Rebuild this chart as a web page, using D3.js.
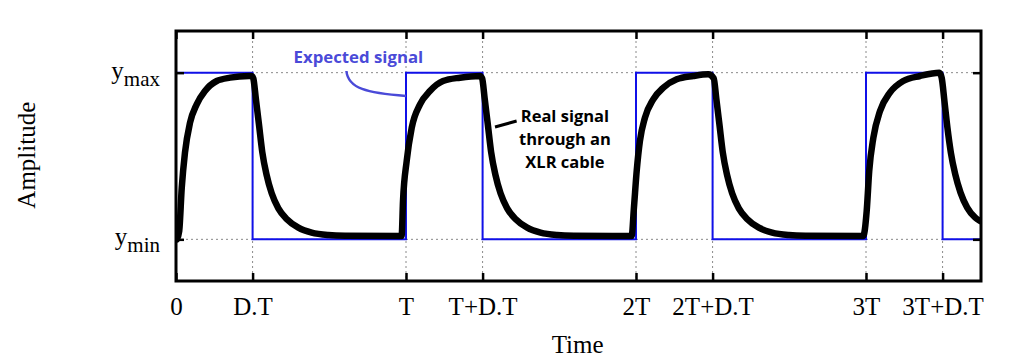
<!DOCTYPE html>
<html>
<head>
<meta charset="utf-8">
<script src="https://cdn.jsdelivr.net/npm/d3@7"></script>
<style>
  html, body { margin: 0; padding: 0; background: #fff; }
  svg { display: block; }
</style>
</head>
<body>
<svg id="chart" width="1024" height="358"></svg>
<script>
// ---------- data (time in units of T, level 0 = ymin, 1 = ymax) ----------
const xTickValues = [0, 0.333, 1, 1.333, 2, 2.333, 3, 3.333];
const xTickLabels = ["0", "D.T", "T", "T+D.T", "2T", "2T+D.T", "3T", "3T+D.T"];
const yTickValues = [0, 1];
const yTickBase = ["y", "y"];
const yTickSub = ["min", "max"];

const expectedTime  = [0, 0.333, 1, 1.333, 2, 2.333, 3, 3.333, 3.5];
const expectedLevel = [1, 0, 1, 0, 1, 0, 1, 0, 0];

const realTime = [
  0.004, 0.014, 0.025, 0.039, 0.061, 0.090, 0.126, 0.177, 0.235, 0.317,
  0.329, 0.336, 0.347, 0.361, 0.375, 0.394, 0.416, 0.445, 0.481, 0.532, 0.590, 0.662, 0.735, 0.974,
  0.981, 0.987, 1.003, 1.025, 1.061, 1.104, 1.161, 1.235, 1.322,
  1.331, 1.342, 1.356, 1.370, 1.389, 1.411, 1.440, 1.476, 1.527, 1.585, 1.657, 1.730, 1.974,
  1.981, 1.991, 2.003, 2.017, 2.039, 2.075, 2.119, 2.177, 2.249, 2.314,
  2.338, 2.349, 2.363, 2.377, 2.396, 2.418, 2.447, 2.483, 2.534, 2.592, 2.664, 2.737, 2.988,
  3.003, 3.014, 3.032, 3.061, 3.104, 3.162, 3.235, 3.319,
  3.329, 3.341, 3.354, 3.369, 3.388, 3.411, 3.440, 3.475, 3.496
];
const realLevel = [
  0.00, 0.05, 0.31, 0.52, 0.70, 0.81, 0.89, 0.95, 0.97, 0.98,
  0.98, 0.966, 0.846, 0.686, 0.525, 0.386, 0.276, 0.186, 0.122, 0.070, 0.040, 0.026, 0.022, 0.02,
  0.02, 0.23, 0.47, 0.67, 0.81, 0.89, 0.95, 0.97, 0.98,
  0.966, 0.846, 0.686, 0.525, 0.386, 0.276, 0.186, 0.122, 0.070, 0.040, 0.026, 0.022, 0.02,
  0.02, 0.19, 0.41, 0.59, 0.73, 0.84, 0.91, 0.96, 0.98, 0.99,
  0.966, 0.846, 0.686, 0.525, 0.386, 0.276, 0.186, 0.122, 0.070, 0.040, 0.026, 0.022, 0.02,
  0.17, 0.41, 0.61, 0.77, 0.88, 0.95, 0.98, 1.00,
  0.97, 0.83, 0.67, 0.52, 0.39, 0.28, 0.19, 0.13, 0.11
];

const expectedLabel = "Expected signal";
const realLabelLines = ["Real signal", "through an", "XLR cable"];
const xTitle = "Time";
const yTitle = "Amplitude";

// ---------- layout ----------
const svg = d3.select("#chart");
const pLeft = 176, pRight = 981, pTop = 31, pBottom = 281;
const x = d3.scaleLinear().domain([0, 3.5]).range([pLeft, pRight]);
const y = d3.scaleLinear().domain([-0.25, 1.25]).range([pBottom, pTop]);

const serif = "'Liberation Serif', 'Times New Roman', serif";
const sans = "'Open Sans', 'Noto Sans', sans-serif";
const annotBlue = "#4a4ad8";

svg.append("defs").append("clipPath").attr("id", "plotclip")
  .append("rect").attr("x", pLeft).attr("y", pTop)
  .attr("width", pRight - pLeft).attr("height", pBottom - pTop);

// grid (dotted)
const grid = svg.append("g").attr("stroke", "#8a8a8a").attr("stroke-width", 1)
  .attr("stroke-dasharray", "2,3");
grid.selectAll("line.vx").data(xTickValues).join("line").attr("class", "vx")
  .attr("x1", d => x(d)).attr("x2", d => x(d))
  .attr("y1", pTop).attr("y2", pBottom);
grid.selectAll("line.hy").data(yTickValues).join("line").attr("class", "hy")
  .attr("x1", pLeft).attr("x2", pRight)
  .attr("y1", d => y(d)).attr("y2", d => y(d));

const plot = svg.append("g").attr("clip-path", "url(#plotclip)");

// expected square wave
const expData = expectedTime.map((t, i) => [t, expectedLevel[i]]);
plot.append("path").datum(expData)
  .attr("fill", "none").attr("stroke", "#1010e8").attr("stroke-width", 2)
  .attr("d", d3.line().x(d => x(d[0])).y(d => y(d[1])).curve(d3.curveStepAfter));

// real signal
const realData = realTime.map((t, i) => [t, realLevel[i]]);
plot.append("path").datum(realData)
  .attr("fill", "none").attr("stroke", "#000").attr("stroke-width", 6.5)
  .attr("stroke-linejoin", "round").attr("stroke-linecap", "round")
  .attr("d", d3.line().x(d => x(d[0])).y(d => y(d[1])).curve(d3.curveMonotoneX));

// axes with inward ticks (bottom, top, left, right)
function styleAxis(g) {
  g.select(".domain").remove();
  g.selectAll(".tick line").attr("stroke", "#000").attr("stroke-width", 2.5);
}
svg.append("g").attr("transform", `translate(0,${pBottom})`)
  .call(d3.axisBottom(x).tickValues(xTickValues).tickSizeInner(-8).tickSizeOuter(0)
    .tickFormat((d, i) => xTickLabels[i]))
  .call(styleAxis)
  .call(g => g.selectAll(".tick text")
    .attr("font-family", serif).attr("font-size", 25).attr("fill", "#000")
    .attr("y", 34).attr("dy", 0));
svg.append("g").attr("transform", `translate(0,${pTop})`)
  .call(d3.axisTop(x).tickValues(xTickValues).tickSizeInner(-8).tickSizeOuter(0).tickFormat(""))
  .call(styleAxis);
svg.append("g").attr("transform", `translate(${pLeft},0)`)
  .call(d3.axisLeft(y).tickValues(yTickValues).tickSizeInner(-8).tickSizeOuter(0).tickFormat(""))
  .call(styleAxis);
svg.append("g").attr("transform", `translate(${pRight},0)`)
  .call(d3.axisRight(y).tickValues(yTickValues).tickSizeInner(-8).tickSizeOuter(0).tickFormat(""))
  .call(styleAxis);

// y tick labels with subscripts
yTickValues.forEach((v, i) => {
  const t = svg.append("text")
    .attr("x", pLeft - 16).attr("y", y(v) + 6)
    .attr("text-anchor", "end")
    .attr("font-family", serif).attr("font-size", 25).attr("fill", "#000");
  t.append("tspan").text(yTickBase[i]);
  t.append("tspan").attr("font-size", 21).attr("dy", 7).text(yTickSub[i]);
});

// frame
svg.append("rect").attr("x", pLeft).attr("y", pTop)
  .attr("width", pRight - pLeft).attr("height", pBottom - pTop)
  .attr("fill", "none").attr("stroke", "#000").attr("stroke-width", 3);

// axis titles
svg.append("text").attr("x", x(1.746)).attr("y", 353)
  .attr("text-anchor", "middle").attr("font-family", serif).attr("font-size", 25)
  .attr("fill", "#000").text(xTitle);
svg.append("text").attr("transform", `translate(35,${y(0.505)}) rotate(-90)`)
  .attr("text-anchor", "middle").attr("font-family", serif).attr("font-size", 25)
  .attr("fill", "#000").text(yTitle);

// annotation: expected signal
svg.append("text").attr("x", x(0.793)).attr("y", y(1.06))
  .attr("text-anchor", "middle").attr("font-family", sans).attr("font-weight", 700)
  .attr("font-size", 16.8).attr("fill", annotBlue).text(expectedLabel);
const ep = d3.path();
ep.moveTo(x(0.741), y(1.01));
ep.bezierCurveTo(x(0.748), y(0.905), x(0.83), y(0.878), x(1.0), y(0.86));
svg.append("path").attr("d", ep.toString())
  .attr("fill", "none").attr("stroke", annotBlue).attr("stroke-width", 2.5);

// annotation: real signal
svg.append("line")
  .attr("x1", x(1.387)).attr("y1", y(0.674)).attr("x2", x(1.481)).attr("y2", y(0.71))
  .attr("stroke", "#000").attr("stroke-width", 3);
const rt = svg.append("text").attr("text-anchor", "middle")
  .attr("font-family", sans).attr("font-weight", 700).attr("font-size", 16.5).attr("fill", "#000");
const realBaselines = [0.705, 0.566, 0.426];
realLabelLines.forEach((s, i) => {
  rt.append("tspan").attr("x", x(1.691)).attr("y", y(realBaselines[i])).text(s);
});
</script>
</body>
</html>
